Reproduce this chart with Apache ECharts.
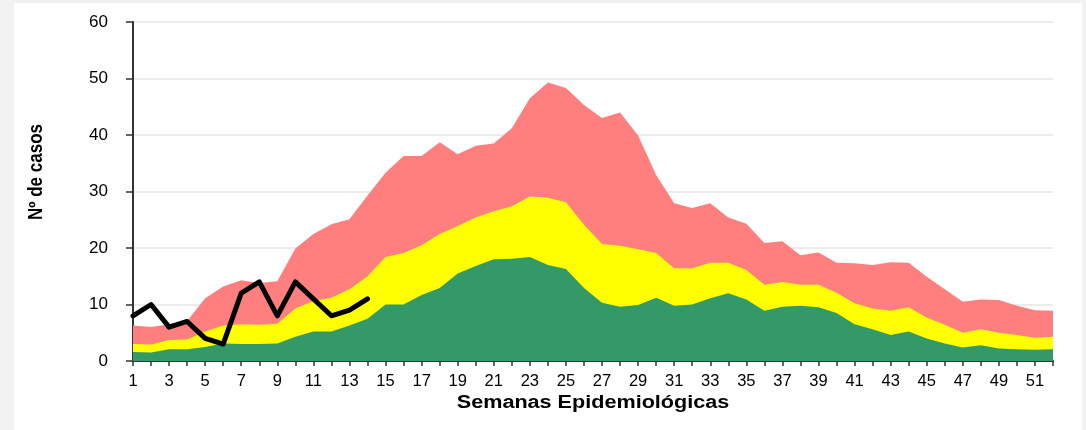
<!DOCTYPE html>
<html>
<head>
<meta charset="utf-8">
<script src="https://cdn.jsdelivr.net/npm/echarts@6/dist/echarts.min.js"></script>
<style>
  html, body { margin: 0; padding: 0; background: #f2f2f2; }
  #panel { position: absolute; left: 14px; top: 3px; width: 1068px; height: 427px; background: #fff; }
  #chart { position: absolute; left: 0; top: 0; width: 1086px; height: 430px; }
</style>
</head>
<body>
<div id="panel"></div>
<div id="chart"></div>
<script>
// semanas epidemiológicas 1..52
const semanas = Array.from({ length: 52 }, (_, i) => String(i + 1))

// canal endémico
const zonaAlarma = [6.3, 6.0, 6.5, 7.1, 11.1, 13.2, 14.3, 13.8, 14.1, 19.9, 22.5, 24.2, 25.1, 29.3, 33.3, 36.3, 36.3, 38.7, 36.6, 38.1, 38.5, 41.2, 46.5, 49.3, 48.3, 45.3, 43.0, 44.0, 39.9, 32.9, 27.9, 27.1, 27.9, 25.4, 24.3, 20.9, 21.2, 18.7, 19.2, 17.4, 17.3, 17.0, 17.5, 17.4, 14.9, 12.7, 10.5, 10.9, 10.8, 9.8, 9.0, 8.9]
const zonaSeguridad = [3.0, 2.9, 3.7, 3.8, 5.2, 6.3, 6.5, 6.4, 6.6, 9.3, 10.6, 11.2, 12.7, 15.0, 18.4, 19.1, 20.5, 22.5, 23.9, 25.4, 26.5, 27.4, 29.1, 28.9, 28.1, 24.1, 20.7, 20.4, 19.8, 19.1, 16.4, 16.4, 17.4, 17.4, 16.1, 13.5, 14.0, 13.5, 13.5, 12.1, 10.2, 9.3, 8.9, 9.5, 7.7, 6.4, 5.0, 5.6, 5.0, 4.6, 4.1, 4.3]
const zonaExito = [1.6, 1.5, 2.1, 2.1, 2.5, 3.1, 3.0, 3.0, 3.1, 4.3, 5.2, 5.2, 6.3, 7.5, 10.0, 10.0, 11.7, 12.9, 15.5, 16.8, 18.0, 18.1, 18.4, 17.0, 16.3, 12.9, 10.3, 9.6, 9.9, 11.2, 9.8, 10.0, 11.1, 12.0, 10.9, 8.9, 9.6, 9.8, 9.5, 8.5, 6.5, 5.6, 4.6, 5.2, 4.0, 3.1, 2.4, 2.8, 2.2, 2.1, 2.0, 2.1]
// casos del año actual
const casos = [8, 10, 6, 7, 4, 3, 12, 14, 8, 14, 11, 8, 9, 11]

const fuente = 'Liberation Sans, Arial, sans-serif'

function zona(name, data, color) {
  return {
    name,
    type: 'line',
    data,
    symbol: 'none',
    silent: true,
    lineStyle: { width: 0 },
    areaStyle: { color, opacity: 1, origin: 'start' },
    itemStyle: { color }
  }
}

const chart = echarts.init(document.getElementById('chart'), null, { renderer: 'canvas' })
chart.setOption({
  backgroundColor: 'transparent',
  animation: false,
  grid: { left: 133, right: 33, top: 22, bottom: 69 },
  // titulos de ejes (el original esta algo estirado en horizontal)
  graphic: [
    {
      type: 'text',
      x: 593,
      y: 403,
      scaleX: 1.2,
      style: {
        text: 'Semanas Epidemiológicas',
        font: 'bold 18px Liberation Sans, Arial, sans-serif',
        fill: '#000',
        align: 'center',
        verticalAlign: 'middle'
      }
    },
    {
      type: 'text',
      x: 37,
      y: 172,
      rotation: Math.PI / 2,
      scaleY: 1.15,
      style: {
        text: 'Nº de casos',
        font: 'bold 17px Liberation Sans, Arial, sans-serif',
        fill: '#000',
        align: 'center',
        verticalAlign: 'middle'
      }
    }
  ],
  xAxis: {
    type: 'category',
    data: semanas,
    boundaryGap: false,
    axisLine: { lineStyle: { color: '#333', width: 2 } },
    axisTick: { show: true, interval: 0, length: 5, lineStyle: { color: '#333', width: 1.5 } },
    axisLabel: { interval: 1, color: '#000', fontFamily: fuente, fontSize: 16.5, margin: 12 },
    splitLine: { show: false }
  },
  yAxis: {
    type: 'value',
    min: 0,
    max: 60,
    interval: 10,
    axisLine: { show: true, lineStyle: { color: '#333', width: 2 } },
    axisTick: { show: true, length: 7, lineStyle: { color: '#333', width: 1.5 } },
    axisLabel: { color: '#000', fontFamily: fuente, fontSize: 17, margin: 25 },
    splitLine: { lineStyle: { color: '#ececec', width: 2 } }
  },
  series: [
    zona('Alarma', zonaAlarma, '#ff7f7f'),
    zona('Seguridad', zonaSeguridad, '#ffff00'),
    zona('Éxito', zonaExito, '#339966'),
    {
      name: 'Casos',
      type: 'line',
      data: casos,
      symbol: 'none',
      lineStyle: { color: '#000', width: 5, join: 'round', cap: 'round' },
      z: 5
    }
  ]
})
</script>
</body>
</html>
